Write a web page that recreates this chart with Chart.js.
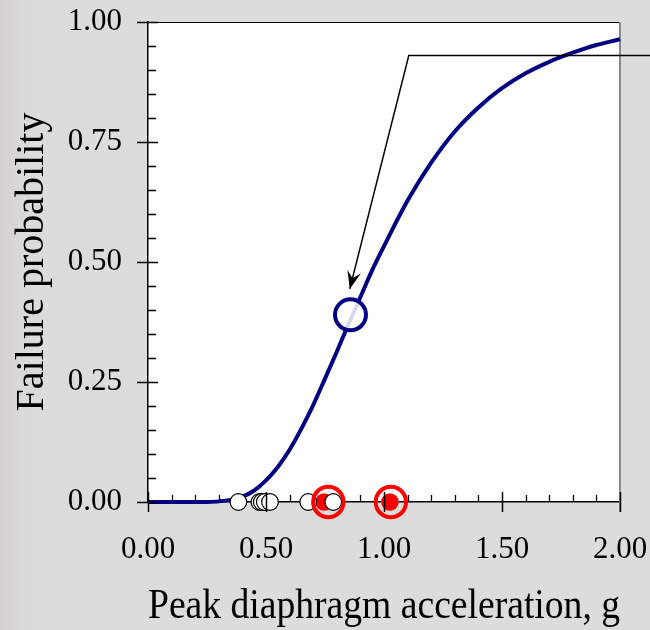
<!DOCTYPE html>
<html>
<head>
<meta charset="utf-8">
<script src="https://cdn.jsdelivr.net/npm/chart.js@4.4.1/dist/chart.umd.min.js"></script>
<style>
  html, body { margin: 0; padding: 0; }
  body {
    width: 650px; height: 630px; overflow: hidden;
    background: linear-gradient(to right, #d4d1cf 0px, #dbdada 25px, #dcdcdc 45px, #dcdcdc 100%);
  }
  canvas { display: block; }
</style>
</head>
<body>
<canvas id="c" width="650" height="630"></canvas>
<script>
// ---- data ----
const curveX = [0, 0.1, 0.2, 0.25, 0.3, 0.35, 0.4, 0.45, 0.5, 0.55, 0.6, 0.65, 0.7, 0.75, 0.8, 0.85, 0.9, 0.95, 1.0, 1.1, 1.2, 1.3, 1.4, 1.5, 1.6, 1.7, 1.8, 1.9, 2.0, 2.03];
const curveY = [0, 0, 0, 0.0002, 0.0013, 0.0044, 0.011, 0.024, 0.045, 0.073, 0.109, 0.153, 0.202, 0.257, 0.313, 0.371, 0.427, 0.483, 0.533, 0.628, 0.707, 0.772, 0.822, 0.862, 0.893, 0.917, 0.936, 0.952, 0.964, 0.968];

const survivedX = [0.383, 0.472, 0.482, 0.495, 0.517, 0.679, 0.785];
const failedX = [0.746, 1.025];
const highlightX = [0.764, 1.029];
const markedPointX = [0.858];
const markedPointY = [0.39];

const arrowX = [2.2, 1.105, 0.855];
const arrowY = [0.93, 0.93, 0.444];

const xTickLabels = ["0.00", "0.50", "1.00", "1.50", "2.00"];
const yTickLabels = ["0.00", "0.25", "0.50", "0.75", "1.00"];
const xTitle = "Peak diaphragm acceleration, g";
const yTitle = "Failure probability";

// ---- helpers ----
const pts = (xs, ys) => xs.map((x, i) => ({ x: x, y: Array.isArray(ys) ? ys[i] : ys }));
const NAVY = '#000080';
const SERIF = "'Liberation Serif', 'Times New Roman', serif";

const framePlugin = {
  id: 'frame',
  beforeDraw(chart) {
    const { ctx, chartArea: a } = chart;
    ctx.save();
    ctx.fillStyle = '#ffffff';
    ctx.fillRect(a.left, a.top, a.right - a.left, a.bottom - a.top);
    ctx.restore();
  },
  beforeDatasetsDraw(chart) {
    const { ctx, chartArea: a, scales } = chart;
    ctx.save();
    ctx.strokeStyle = '#000000';
    ctx.lineWidth = 1;
    ctx.beginPath();
    ctx.moveTo(a.left, a.top + 0.5);
    ctx.lineTo(a.right, a.top + 0.5);
    ctx.stroke();
    ctx.strokeStyle = '#8a8a8a';
    ctx.lineWidth = 2;
    ctx.beginPath();
    ctx.moveTo(a.right, a.top);
    ctx.lineTo(a.right, a.bottom + 10);
    ctx.stroke();
    ctx.strokeStyle = '#000000';
    ctx.lineWidth = 1.3;
    ctx.beginPath();
    for (let i = 1; i < 20; i++) {
      if (i % 5 === 0) continue;
      const y = Math.round(scales.y.getPixelForValue(i * 0.05)) + 0.5;
      ctx.moveTo(a.left, y); ctx.lineTo(a.left + 8, y);
    }
    for (let i = 1; i < 20; i++) {
      if (i % 5 === 0) continue;
      const x = Math.round(scales.x.getPixelForValue(i * 0.1)) + 0.5;
      ctx.moveTo(x, a.bottom); ctx.lineTo(x, a.bottom - 7);
    }
    ctx.stroke();
    ctx.restore();
  },
  afterDatasetsDraw(chart) {
    const { ctx, chartArea: a, scales } = chart;
    ctx.save();
    ctx.strokeStyle = '#000000';
    ctx.lineWidth = 1.5;
    ctx.beginPath();
    yTickLabels.forEach(l => {
      const y = Math.round(scales.y.getPixelForValue(parseFloat(l))) + 0.5;
      ctx.moveTo(a.left - 11, y); ctx.lineTo(a.left + 10, y);
    });
    xTickLabels.forEach(l => {
      const x = Math.round(scales.x.getPixelForValue(parseFloat(l))) + 0.5;
      ctx.moveTo(x, a.bottom + 10); ctx.lineTo(x, a.bottom - 10);
    });
    ctx.stroke();
    const n = arrowX.length;
    const x1 = scales.x.getPixelForValue(arrowX[n - 2]);
    const y1 = scales.y.getPixelForValue(arrowY[n - 2]);
    const x2 = scales.x.getPixelForValue(arrowX[n - 1]);
    const y2 = scales.y.getPixelForValue(arrowY[n - 1]);
    const ang = Math.atan2(y2 - y1, x2 - x1);
    const L = 18, W = 7, notch = 11;
    ctx.translate(x2, y2);
    ctx.rotate(ang);
    ctx.fillStyle = '#000000';
    ctx.beginPath();
    ctx.moveTo(0, 0);
    ctx.lineTo(-L, -W);
    ctx.lineTo(-notch, 0);
    ctx.lineTo(-L, W);
    ctx.closePath();
    ctx.fill();
    ctx.restore();
  }
};

new Chart(document.getElementById('c'), {
  type: 'scatter',
  data: {
    datasets: [
      {
        label: 'marked',
        data: pts(markedPointX, markedPointY),
        pointRadius: 15.5,
        pointBorderWidth: 4,
        pointBorderColor: NAVY,
        pointBackgroundColor: 'rgba(255,255,255,0.85)',
        order: 0
      },
      {
        label: 'highlight',
        data: pts(highlightX, 0),
        pointRadius: 15.2,
        pointBorderWidth: 4,
        pointBorderColor: '#ff0000',
        pointBackgroundColor: 'rgba(0,0,0,0)',
        clip: false,
        order: 1
      },
      {
        label: 'survived',
        data: pts(survivedX, 0),
        pointRadius: 8.3,
        pointBorderWidth: 1.2,
        pointBorderColor: '#000000',
        pointBackgroundColor: '#ffffff',
        clip: false,
        order: 2
      },
      {
        label: 'failed',
        data: pts(failedX, 0),
        pointRadius: 8.8,
        pointBorderWidth: 0,
        pointBorderColor: '#ff0000',
        pointBackgroundColor: '#ff0000',
        clip: false,
        order: 3
      },
      {
        label: 'arrow',
        type: 'line',
        data: pts(arrowX, arrowY),
        borderColor: '#000000',
        borderWidth: 1.5,
        pointRadius: 0,
        fill: false,
        tension: 0,
        clip: false,
        order: 4
      },
      {
        label: 'fragility',
        type: 'line',
        data: pts(curveX, curveY),
        borderColor: NAVY,
        borderWidth: 4,
        pointRadius: 0,
        fill: false,
        cubicInterpolationMode: 'monotone',
        clip: false,
        order: 5
      }
    ]
  },
  options: {
    responsive: false,
    devicePixelRatio: 1,
    animation: false,
    events: [],
    layout: { padding: 0 },
    plugins: { legend: { display: false }, tooltip: { enabled: false } },
    scales: {
      x: {
        type: 'linear',
        min: 0, max: 2,
        afterFit(s) { s.height = 128; s.paddingLeft = 0; s.paddingRight = 30; },
        afterBuildTicks(s) { s.ticks = xTickLabels.map(l => ({ value: parseFloat(l) })); },
        grid: { display: false, drawTicks: false },
        border: { display: true, color: '#000000', width: 1.5 },
        ticks: {
          padding: 29,
          color: '#000000',
          font: { family: SERIF, size: 31 },
          callback: (v) => xTickLabels.find(l => parseFloat(l) === v) ?? ''
        },
        title: {
          display: true,
          text: xTitle,
          color: '#000000',
          font: { family: SERIF, size: 43 },
          padding: { top: 0, bottom: -3 }
        }
      },
      y: {
        type: 'linear',
        min: 0, max: 1,
        afterFit(s) { s.width = 148; s.paddingTop = 22; s.paddingBottom = 0; },
        afterBuildTicks(s) { s.ticks = yTickLabels.map(l => ({ value: parseFloat(l) })); },
        grid: { display: false, drawTicks: false },
        border: { display: true, color: '#000000', width: 1.5 },
        ticks: {
          padding: 26,
          color: '#000000',
          font: { family: SERIF, size: 31 },
          callback: (v) => yTickLabels.find(l => parseFloat(l) === v) ?? ''
        },
        title: {
          display: true,
          text: yTitle,
          color: '#000000',
          font: { family: SERIF, size: 40 },
          padding: { top: 8, bottom: 0 }
        }
      }
    }
  },
  plugins: [framePlugin]
});
</script>
</body>
</html>
